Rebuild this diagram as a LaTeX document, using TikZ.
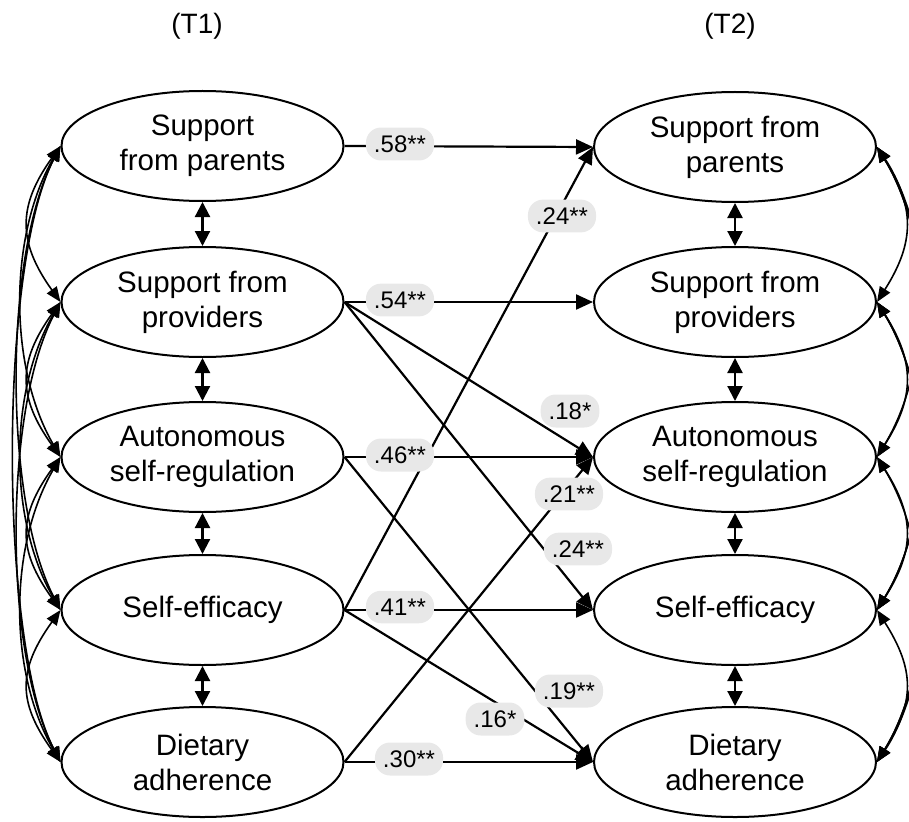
\documentclass[tikz,border=0pt]{standalone}
\usepackage{fontspec}
\setmainfont{Liberation Sans}
\usetikzlibrary{arrows.meta,shapes.geometric}
\begin{document}
\begin{tikzpicture}[x=1pt,y=-1pt,
  var/.style={ellipse, draw, line width=2pt, minimum width=282pt, minimum height=110pt,
    inner sep=0pt, align=center, font=\fontsize{29.5}{35}\selectfont},
  pathar/.style={line width=2.2pt, -{Triangle[length=17pt,width=15pt]}},
  dblar/.style={line width=2.2pt, {Triangle[length=15pt,width=15pt]}-{Triangle[length=15pt,width=15pt]}},
  covar/.style={line width=1.6pt, {Triangle[length=15pt,width=12pt]}-{Triangle[length=15pt,width=12pt]}},
  coef/.style={fill=black!9, rounded corners=15pt, inner xsep=8pt, inner ysep=8pt,
    font=\fontsize{24}{24}\selectfont},
  ttl/.style={font=\fontsize{28}{28}\selectfont}]
\useasboundingbox (0,0) rectangle (909,821);
\clip (0,0) rectangle (909,821);

\node[ttl] (t1) at (197,26) {(T1)};
\node[ttl] (t2) at (730,26) {(T2)};

% T1 variables
\node[var] (L1) at (202.5,146) {Support\\from parents};
\node[var] (L2) at (202.5,302) {Support from\\providers};
\node[var] (L3) at (202.5,457) {Autonomous\\self-regulation};
\node[var] (L4) at (202.5,610) {Self-efficacy};
\node[var] (L5) at (202.5,762) {Dietary\\adherence};

% T2 variables
\node[var] (R1) at (735,147) {Support from\\parents};
\node[var] (R2) at (735,302) {Support from\\providers};
\node[var] (R3) at (735,457) {Autonomous\\self-regulation};
\node[var] (R4) at (735,610) {Self-efficacy};
\node[var] (R5) at (735,762) {Dietary\\adherence};

% vertical double arrows
\foreach \a/\b in {1/2,2/3,3/4,4/5}{
  \draw[dblar] (L\a.south) -- (L\b.north);
  \draw[dblar] (R\a.south) -- (R\b.north);
}

% covariance arcs, left
\foreach \i/\j/\c/\h in {1/2/43/60, 2/3/43/60, 3/4/43/60, 4/5/43/60,
                         1/3/52/90, 2/4/52/90, 3/5/52/90,
                         1/4/57/110, 2/5/57/110, 1/5/62/120}{
  \draw[covar] (L\i.west) .. controls +(-\c,\h) and +(-\c,-\h) .. (L\j.west);
}
% covariance arcs, right
\foreach \i/\j/\c/\h in {1/2/38/60, 2/3/38/60, 3/4/38/60, 4/5/38/60,
                         1/3/55/90, 2/4/55/90, 3/5/55/90,
                         1/4/68/110, 2/5/68/110, 1/5/80/120}{
  \draw[covar] (R\i.east) .. controls +(\c,\h) and +(\c,-\h) .. (R\j.east);
}

% paths
\draw[pathar] (L1.east) -- (R1.west);
\draw[pathar] (L2.east) -- (R2.west);
\draw[pathar] (L3.east) -- (R3.west);
\draw[pathar] (L4.east) -- (R4.west);
\draw[pathar] (L5.east) -- (R5.west);
\draw[pathar] (L4.east) -- (R1.west);
\draw[pathar] (L2.east) -- (R3.west);
\draw[pathar] (L5.east) -- (R3.west);
\draw[pathar] (L2.east) -- (R4.west);
\draw[pathar] (L3.east) -- (R5.west);
\draw[pathar] (L4.east) -- (R5.west);

% coefficients
\node[coef] (c1) at (400,144) {.58**};
\node[coef] (c2) at (400,300) {.54**};
\node[coef] (c3) at (400,455) {.46**};
\node[coef] (c4) at (400,607) {.41**};
\node[coef] (c5) at (409,759) {.30**};
\node[coef] (c6) at (562,216) {.24**};
\node[coef] (c7) at (570,411) {.18*};
\node[coef] (c8) at (569,494) {.21**};
\node[coef] (c9) at (578,549) {.24**};
\node[coef] (c10) at (569,691) {.19**};
\node[coef] (c11) at (495,719) {.16*};
\end{tikzpicture}
\end{document}
